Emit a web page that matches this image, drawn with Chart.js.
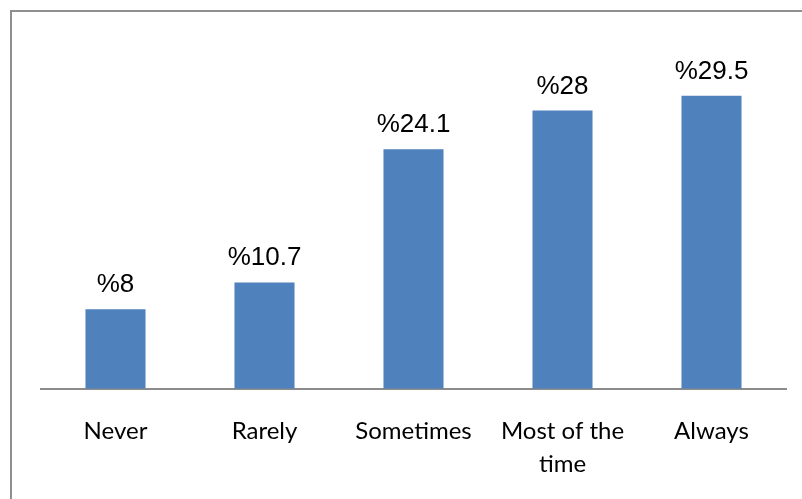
<!DOCTYPE html>
<html>
<head>
<meta charset="utf-8">
<script src="https://cdn.jsdelivr.net/npm/chart.js@4"></script>
<style>
    html, body { margin: 0; padding: 0; background: #fff; overflow: hidden; }
    .frame {
        position: absolute; left: 10px; top: 10px;
        width: 820px; height: 520px;
        border: 2px solid #8f8f8f;
    }
    .wrap { position: absolute; left: 0; top: 0; width: 802px; height: 521px; }
</style>
</head>
<body>
<div class="frame"></div>
<div class="wrap"><canvas id="chart" width="802" height="521"></canvas></div>
<script>
const categorias = ['Never', 'Rarely', 'Sometimes', ['Most of the', 'time'], 'Always'];
const valores = [8, 10.7, 24.1, 28, 29.5];
const etiquetas = ['%8', '%10.7', '%24.1', '%28', '%29.5'];

// etiquetas encima de cada barra
const etiquetasBarras = {
    id: 'etiquetasBarras',
    afterDatasetsDraw(chart) {
        const ctx = chart.ctx;
        const meta = chart.getDatasetMeta(0);
        ctx.save();
        ctx.font = '26px "Liberation Sans", Arial, sans-serif';
        ctx.fillStyle = '#000';
        ctx.textAlign = 'center';
        ctx.textBaseline = 'alphabetic';
        meta.data.forEach((bar, i) => {
            ctx.fillText(etiquetas[i], bar.x, bar.y - 17);
        });
        ctx.restore();
    }
};

new Chart(document.getElementById('chart'), {
    type: 'bar',
    data: {
        labels: categorias,
        datasets: [{
            data: valores,
            backgroundColor: '#4F81BD',
            barPercentage: 0.403,
            categoryPercentage: 1
        }]
    },
    options: {
        responsive: false,
        animation: false,
        layout: { padding: { left: 41, right: 16, top: 41, bottom: 14 } },
        plugins: {
            legend: { display: false },
            tooltip: { enabled: false }
        },
        scales: {
            y: {
                display: false,
                min: 0,
                max: 35
            },
            x: {
                grid: { display: false, drawTicks: false },
                border: { display: true, color: '#8c8c8c', width: 2 },
                ticks: {
                    color: '#000',
                    font: { family: 'Lato, "Open Sans", sans-serif', size: 24, lineHeight: 1.38 },
                    padding: 26,
                    maxRotation: 0,
                    autoSkip: false
                }
            }
        }
    },
    plugins: [etiquetasBarras]
});
</script>
</body>
</html>
